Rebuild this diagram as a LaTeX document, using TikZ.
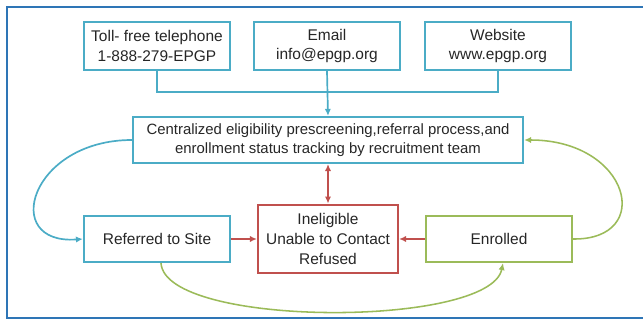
\documentclass[tikz,border=0pt]{standalone}
\usepackage{fontspec}
\setmainfont{Liberation Sans}
\usepackage{xcolor}
\definecolor{aqualine}{HTML}{4BACC6}
\definecolor{redline}{HTML}{C0504D}
\definecolor{greenline}{HTML}{9BBB59}
\definecolor{frameblue}{HTML}{2E75B6}
\definecolor{textgray}{HTML}{262626}
\usetikzlibrary{arrows.meta}

\begin{document}
\begin{tikzpicture}[
            x=0.025cm, y=-0.025cm,
            font=\fontsize{11}{14}\selectfont,
            text=textgray,
            >={Latex[length=5pt,width=4.5pt]},
            % --- node styles ---
            srcbox/.style={
                draw=aqualine, line width=1.5pt,
                minimum width=3.65cm, minimum height=1.2cm,
                align=center, inner sep=2pt
            },
            stepbox/.style={
                draw, line width=1.5pt,
                minimum height=1.15cm,
                align=center, inner sep=2pt
            },
            % --- edge styles ---
            aquaarr/.style={aqualine, line width=1.2pt},
            redarr/.style={redline, line width=1.3pt},
            greenarr/.style={greenline, line width=1.1pt}
        ]

        % ============================================================
        %  Layout in pixel units of the 643 x 320 canvas,
        %  y running downwards.
        % ============================================================
        \useasboundingbox (0,0) rectangle (643,320);

        % --- outer frame (open to the right) ---
        \draw[frameblue, line width=1.2pt] (643,7) -- (7,7) -- (7,318) -- (643,318);

        % --- Row 0: contact channels ---
        \node[srcbox] (phone) at (157,46)
            {Toll- free telephone\\1-888-279-EPGP};
        \node[srcbox] (email) at (327,46)
            {Email\\info@epgp.org};
        \node[srcbox] (web) at (498,46)
            {Website\\www.epgp.org};

        \coordinate (hub) at (327,92);

        % --- Row 1: recruitment team ---
        \node[stepbox, draw=aqualine, minimum width=9.75cm,
              font=\fontsize{10.6}{14}\selectfont] (central) at (328,140)
            {Centralized eligibility prescreening,referral process,and\\
             enrollment status tracking by recruitment team};

        % --- Row 2: outcomes ---
        \node[stepbox, draw=aqualine, minimum width=3.65cm] (referred) at (157,239)
            {Referred to Site};
        \node[stepbox, draw=redline, minimum width=3.5cm, minimum height=1.72cm] (inelig) at (328,239)
            {Ineligible\\Unable to Contact\\Refused};
        \node[stepbox, draw=greenline, minimum width=3.65cm] (enrolled) at (499,239)
            {Enrolled};

        % ===== Arrows: channels into team =====
        \draw[aquaarr] (phone.south) |- (hub);
        \draw[aquaarr] (web.south) |- (hub);
        \draw[aquaarr, ->] (email.south) -- (central.north);

        % ===== Arrows: outcomes =====
        \draw[redarr, <->] (central.south) -- (inelig.north);
        \draw[redarr, ->] (referred.east) -- (inelig.west);
        \draw[redarr, ->] (enrolled.west) -- (inelig.east);

        % ===== Curved loops =====
        \draw[aquaarr, ->] (central.west) .. controls (30,140) and (0,245) .. (referred.west);
        \draw[greenarr, ->] (enrolled.east) .. controls (655,240) and (630,140) .. (central.east);
        \draw[greenarr, ->] ([xshift=1mm]referred.south) .. controls (165,328) and (490,328) .. ([xshift=1mm]enrolled.south);

        \end{tikzpicture}
\end{document}
